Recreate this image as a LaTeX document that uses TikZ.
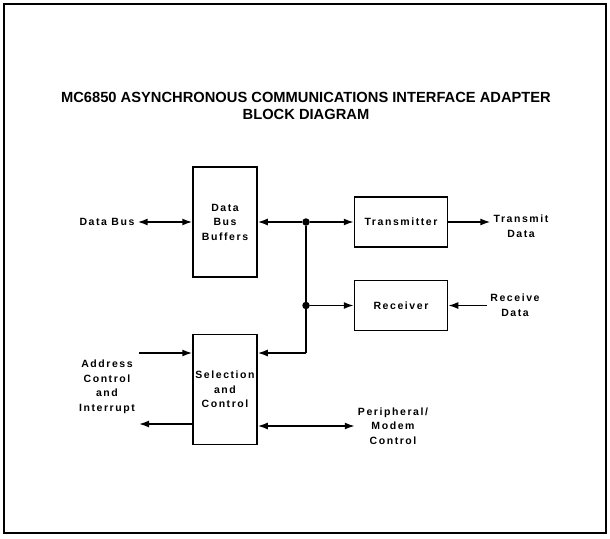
\documentclass[tikz,border=0pt]{standalone}
\usepackage{fontspec}
\setmainfont{Liberation Sans}
\newfontfamily\tagfont[LetterSpace=15]{Liberation Sans}
\usetikzlibrary{arrows.meta,positioning}

\begin{document}
\begin{tikzpicture}
	[ x=1pt, y=-1pt, node distance=56pt and 97pt,
		block/.style={rectangle,draw,line width=1.5pt,minimum width=64pt,minimum height=110pt,inner sep=1pt,align=center,font=\tagfont\bfseries\fontsize{10.5}{14.5}\selectfont},
		unit/.style={rectangle,draw,line width=1.5pt,minimum width=93pt,minimum height=50pt,font=\tagfont\bfseries\fontsize{10.5}{14.5}\selectfont},
		sigtext/.style={align=center,inner sep=3pt,font=\tagfont\bfseries\fontsize{10.5}{14.5}\selectfont},
		heading/.style={align=center,font=\bfseries\fontsize{14.7}{16.5}\selectfont},
		dot/.style={circle,fill,inner sep=0pt,minimum size=7.5pt},
		wire/.style={line width=1.6pt},
		arrowOut/.style={-{Latex[length=10pt,width=7pt]},line width=1.6pt},
		arrowIn/.style={{Latex[length=10pt,width=7pt]}-,line width=1.6pt},
		arrowBoth/.style={{Latex[length=10pt,width=7pt]}-{Latex[length=10pt,width=7pt]},line width=1.6pt}]

	\useasboundingbox (0,0) rectangle (610,538);
	\draw[line width=1.5pt] (4,4) rectangle (606,533);

	\node[heading] (title) at (306,106) {MC6850 ASYNCHRONOUS COMMUNICATIONS INTERFACE ADAPTER\\BLOCK DIAGRAM};

	\node[block] (buffers) at (225,222) {Data\\Bus\\Buffers};
	\node[block] (select) [below=of buffers] {Selection\\and\\Control};
	\node[unit] (tx) at (401,222) {Transmitter};
	\node[unit] (rx) [below=32pt of tx] {Receiver};

	\node[sigtext] (databus) at (107,222) {Data Bus};
	\node[sigtext] (txdata) at (521,226) {Transmit\\Data};
	\node[sigtext] (rxdata) at (515,305) {Receive\\Data};
	\node[sigtext] (addr) at (107,387) {Address\\Control\\and\\Interrupt};
	\node[sigtext] (perip) at (393,426) {Peripheral/\\Modem\\Control};

	\node[dot] (jtx) at (306,222) {};
	\node[dot] (jrx) at (jtx |- rx) {};
	\coordinate (jsel) at (306,353);
	\coordinate (addrin) at (139,353);
	\coordinate (addrout) at (139,424);

	\draw[arrowBoth] (databus) -- (buffers);
	\draw[arrowIn] (buffers) -- (jtx);
	\draw[arrowOut] (jtx) -- (tx);
	\draw[arrowOut] (jrx) -- (rx);
	\draw[wire] (jtx) -- (jrx) -- (jsel);
	\draw[arrowOut] (jsel) -- (jsel -| select.east);
	\draw[arrowOut] (tx) -- (tx -| txdata.west);
	\draw[arrowOut] (rx -| rxdata.west) -- (rx);
	\draw[arrowOut] (addrin) -- (addrin -| select.west);
	\draw[arrowOut] (addrout -| select.west) -- (addrout);
	\draw[arrowBoth] (perip.west -| select.east) -- (perip.west);
\end{tikzpicture}
\end{document}
